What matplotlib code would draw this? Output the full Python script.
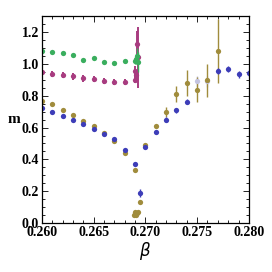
import numpy as np
import matplotlib
matplotlib.use("Agg")
import matplotlib.pyplot as plt
from matplotlib.ticker import MultipleLocator

# blue series
beta_b = [0.260, 0.261, 0.262, 0.263, 0.264, 0.265, 0.266, 0.267, 0.268, 0.269, 0.2695,
          0.270, 0.271, 0.272, 0.273, 0.274, 0.277, 0.278, 0.279, 0.280]
m_b = [0.723, 0.698, 0.675, 0.650, 0.625, 0.593, 0.557, 0.525, 0.457, 0.371, 0.189,
       0.480, 0.572, 0.650, 0.708, 0.763, 0.953, 0.966, 0.933, 0.940]
err_b = [0.01, 0.01, 0.01, 0.01, 0.01, 0.01, 0.01, 0.01, 0.01, 0.01, 0.025,
         0.01, 0.01, 0.015, 0.015, 0.015, 0.02, 0.02, 0.02, 0.02]

# faint blue points hidden behind olive bars
beta_bf = [0.275, 0.276]
m_bf = [0.89, 0.89]
err_bf = [0.035, 0.035]

# olive series
beta_o = [0.260, 0.261, 0.262, 0.263, 0.264, 0.265, 0.266, 0.267, 0.268, 0.269, 0.2695,
          0.270, 0.271, 0.272, 0.273, 0.274, 0.275, 0.276, 0.277,
          0.2689, 0.2690, 0.2691, 0.2692, 0.2693]
m_o = [0.765, 0.745, 0.708, 0.681, 0.643, 0.608, 0.566, 0.515, 0.440, 0.335, 0.136,
       0.490, 0.608, 0.696, 0.807, 0.880, 0.838, 0.895, 1.079,
       0.055, 0.070, 0.050, 0.065, 0.072]
err_o = [0.005, 0.005, 0.005, 0.005, 0.005, 0.005, 0.005, 0.005, 0.005, 0.005, 0.01,
         0.01, 0.01, 0.03, 0.05, 0.08, 0.076, 0.105, 0.20,
         0.005, 0.005, 0.005, 0.005, 0.005]

# green series
beta_g = [0.260, 0.261, 0.262, 0.263, 0.264, 0.265, 0.266, 0.267, 0.268,
          0.2690, 0.2691, 0.2692, 0.2693]
m_g = [1.079, 1.072, 1.065, 1.055, 1.023, 1.036, 1.013, 1.002, 1.015,
       1.016, 1.030, 1.050, 1.010]
err_g = [0.005, 0.005, 0.005, 0.005, 0.005, 0.005, 0.005, 0.005, 0.005,
         0.02, 0.03, 0.05, 0.06]

# magenta series
beta_p = [0.260, 0.261, 0.262, 0.263, 0.264, 0.265, 0.266, 0.267, 0.268,
          0.2690, 0.2690, 0.2691, 0.2692, 0.2693]
m_p = [0.945, 0.935, 0.930, 0.920, 0.908, 0.905, 0.890, 0.884, 0.884,
       0.900, 0.953, 0.930, 1.126, 1.040]
err_p = [0.02, 0.02, 0.02, 0.02, 0.02, 0.02, 0.02, 0.02, 0.02,
         0.02, 0.03, 0.03, 0.08, 0.19]

blue = "#3d3db8"
olive = "#a08c3c"
green = "#3aae5e"
magenta = "#a83c80"

fig = plt.figure(figsize=(2.72, 2.72), dpi=100)
ax = fig.add_axes([0.154, 0.179, 0.761, 0.763])

kw = dict(fmt="o", ms=3.8, elinewidth=1.0, capsize=1.2, capthick=0.8, mew=0)
ax.errorbar(beta_bf, m_bf, yerr=err_bf, color="#c4c4e0", **kw)
ax.errorbar(beta_o, m_o, yerr=err_o, color=olive, **kw)
ax.errorbar(beta_b, m_b, yerr=err_b, color=blue, **kw)
kw_p = dict(kw, elinewidth=1.4)
ax.errorbar(beta_p, m_p, yerr=err_p, color=magenta, **kw_p)
ax.errorbar(beta_g, m_g, yerr=err_g, color=green, **kw)

ax.set_xlim(0.260, 0.280)
ax.set_ylim(0.0, 1.3)
ax.xaxis.set_major_locator(MultipleLocator(0.005))
ax.xaxis.set_minor_locator(MultipleLocator(0.001))
ax.yaxis.set_major_locator(MultipleLocator(0.2))
ax.yaxis.set_minor_locator(MultipleLocator(0.05))
ax.xaxis.set_major_formatter(matplotlib.ticker.FormatStrFormatter("%.3f"))
ax.yaxis.set_major_formatter(matplotlib.ticker.FormatStrFormatter("%.1f"))
ax.tick_params(which="both", direction="in", top=True, right=True, width=0.6)
ax.tick_params(which="major", length=4, pad=2)
ax.tick_params(which="minor", length=2)
for lab in ax.get_xticklabels() + ax.get_yticklabels():
    lab.set_fontfamily("Liberation Serif")
    lab.set_fontweight("bold")
    lab.set_fontsize(10)
for s in ax.spines.values():
    s.set_linewidth(0.9)

ax.set_xlabel(r"$\beta$", fontsize=12, labelpad=1)
ax.set_ylabel("m", fontsize=11, fontfamily="Liberation Serif", fontweight="bold",
              rotation=0, va="center")
ax.yaxis.set_label_coords(-0.135, 0.5)

fig.savefig("out.png", dpi=100)
